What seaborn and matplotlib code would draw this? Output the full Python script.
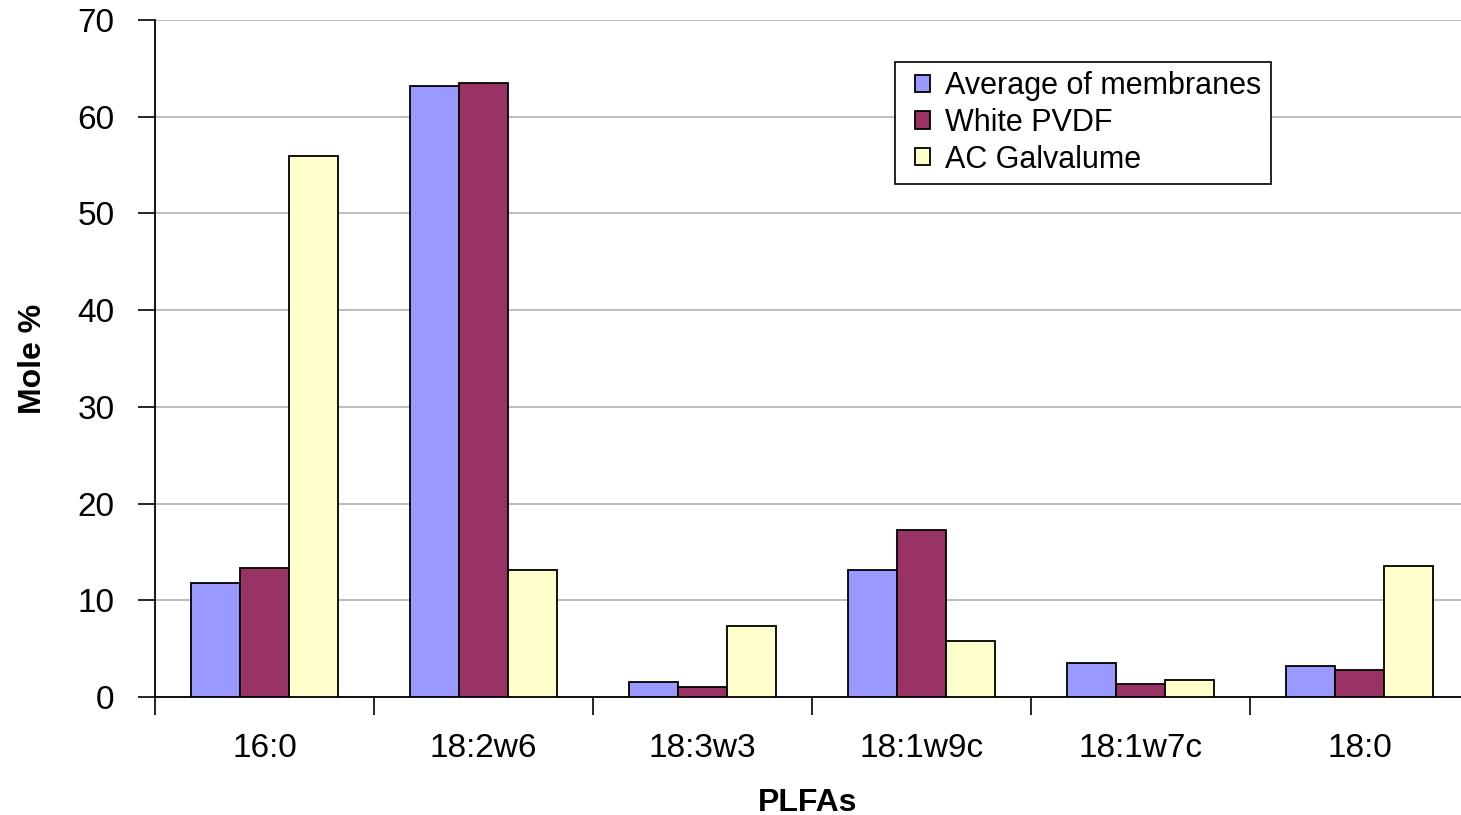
import matplotlib
matplotlib.use("Agg")
import matplotlib.pyplot as plt
from matplotlib.legend_handler import HandlerPatch
import seaborn as sns
import pandas as pd

categories = ["16:0", "18:2w6", "18:3w3", "18:1w9c", "18:1w7c", "18:0"]
series_names = ["Average of membranes", "White PVDF", "AC Galvalume"]
avg_membranes = [11.8, 63.2, 1.5, 13.1, 3.5, 3.2]
white_pvdf = [13.3, 63.5, 1.0, 17.3, 1.3, 2.8]
ac_galvalume = [55.9, 13.1, 7.3, 5.8, 1.8, 13.5]
colors = ["#9999FF", "#993366", "#FFFFCC"]
yticks = [0, 10, 20, 30, 40, 50, 60, 70]

rows = []
for name, vals in zip(series_names, [avg_membranes, white_pvdf, ac_galvalume]):
    for c, v in zip(categories, vals):
        rows.append({"PLFA": c, "Series": name, "Value": v})
df = pd.DataFrame(rows)

sns.set_style("white")
plt.rcParams["font.family"] = ["Liberation Sans", "DejaVu Sans"]
plt.rcParams["text.color"] = "black"
plt.rcParams["axes.labelcolor"] = "black"
plt.rcParams["xtick.color"] = "black"
plt.rcParams["ytick.color"] = "black"

fig = plt.figure(figsize=(14.61, 8.15), dpi=100)
ax = fig.add_axes([155 / 1461, 118 / 815, 1306 / 1461, 677 / 815])

sns.barplot(data=df, x="PLFA", y="Value", hue="Series", order=categories,
            hue_order=series_names, palette=colors, width=0.67,
            edgecolor="black", linewidth=1.3, saturation=1, ax=ax, zorder=3)

ax.set_yticks(yticks)
ax.set_yticklabels([str(t) for t in yticks], fontsize=24)
ax.yaxis.grid(True, color="#b0b0b0", linewidth=1.2, zorder=0)
ax.set_axisbelow(True)

ax.set_xticks(range(len(categories)))
ax.set_xticklabels(categories, fontsize=24)
ax.tick_params(axis="x", length=0, pad=26)
ax.tick_params(axis="y", direction="out", length=12, width=1.2, left=True, pad=17)
ax.set_xticks([i - 0.5 for i in range(len(categories) + 1)], minor=True)
ax.tick_params(axis="x", which="minor", direction="out", length=13, width=1.2, bottom=True)

ax.set_ylim(0, 70)
ax.set_xlim(-0.5, 5.463)

for s in ["top", "right"]:
    ax.spines[s].set_visible(False)
for s in ["left", "bottom"]:
    ax.spines[s].set_color("black")
    ax.spines[s].set_linewidth(1.3)

ax.set_xlabel("PLFAs", fontsize=23, fontweight="bold", labelpad=17)
ax.set_ylabel("Mole %", fontsize=23, fontweight="bold", labelpad=21)

handles, labels = ax.get_legend_handles_labels()
hmap = {type(h): HandlerPatch(xpad=0.35) for h in handles}
leg = ax.legend(handles, labels, handler_map=hmap,
                loc="upper left", bbox_to_anchor=((895 - 155) / 1306, (697 - 62) / 677),
                fontsize=22, frameon=True, fancybox=False, edgecolor="black",
                handlelength=0.85, handleheight=0.5, handletextpad=0.5,
                borderpad=0.3, labelspacing=0.22, borderaxespad=0)
leg.get_frame().set_linewidth(1.2)
leg.get_frame().set_facecolor("white")
leg.get_frame().set_alpha(1)

fig.savefig("out.png", dpi=100)
